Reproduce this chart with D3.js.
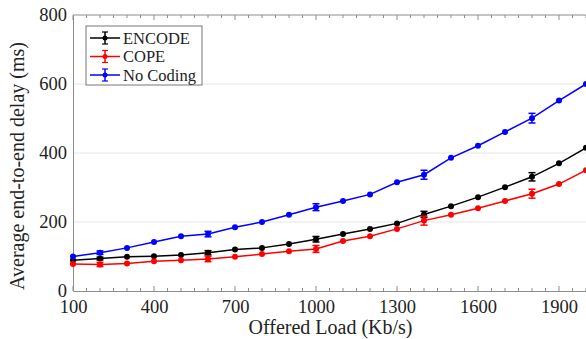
<!DOCTYPE html>
<html lang="en">
<head>
<meta charset="utf-8">
<title>End-to-end delay</title>
<script src="https://cdn.jsdelivr.net/npm/d3@7"></script>
<style>
  body { margin: 0; overflow: hidden; background: #fff; }
  svg text { font-family: "Liberation Serif", "DejaVu Serif", serif !important; fill: #222; }
  .tick text { font-size: 18.5px; }
  .axis-label { font-size: 20px; }
  .legend text { font-size: 16.5px; }
</style>
</head>
<body>
<script>
// data
const loads = [100,200,300,400,500,600,700,800,900,1000,1100,1200,1300,1400,1500,1600,1700,1800,1900,2000];
const encode = [89,94,99,101,104,111,120,125,136,150,165,180,196,222,246,272,301,331,370,415];
const cope   = [78,77,80,86,89,93,99,107,115,122,145,159,180,204,221,240,261,282,310,350];
const noCoding = [100,111,125,142,159,165,185,200,221,243,261,280,315,337,386,421,461,501,552,600];
// error half-widths (0 = none drawn)
const encodeErr   = [0,4,0,0,0,6,0,0,0,8,0,0,0,9,0,0,0,12,0,0];
const copeErr     = [0,6,0,0,0,8,0,0,0,10,0,0,0,13,0,0,0,13,0,0];
const noCodingErr = [0,5,0,0,0,8,0,0,0,10,0,0,0,13,0,0,0,14,0,0];
const xTicks = [100,400,700,1000,1300,1600,1900];
const yTicks = [0,200,400,600,800];

const series = [
  { name: 'ENCODE', color: '#000000', values: encode, err: encodeErr },
  { name: 'COPE', color: '#ff0000', values: cope, err: copeErr },
  { name: 'No Coding', color: '#0000ff', values: noCoding, err: noCodingErr }
];

const FONT = '"Liberation Serif", "DejaVu Serif", serif';
const width = 586, height = 339;
const margin = { top: 15, right: 0, bottom: 48, left: 73 };
const innerWidth = width - margin.left - margin.right;
const innerHeight = height - margin.top - margin.bottom;

const svg = d3.select('body').append('svg')
  .attr('width', width).attr('height', height)
  .attr('font-family', FONT);

const g = svg.append('g')
  .attr('transform', `translate(${margin.left},${margin.top})`);

const xScale = d3.scaleLinear().domain([100, 2000]).range([0, innerWidth]);
const yScale = d3.scaleLinear().domain([0, 800]).range([innerHeight, 0]);

// grid
g.selectAll('.grid').data([200, 400, 600]).enter().append('line')
  .attr('x1', 0).attr('x2', innerWidth)
  .attr('y1', d => yScale(d)).attr('y2', d => yScale(d))
  .attr('stroke', '#e6e6e6').attr('stroke-width', 1);

// minor x ticks (bottom + top)
const minor = d3.range(100, 2001, 50);
const axisColor = '#8c8c8c';
g.selectAll('.mb').data(minor).enter().append('line')
  .attr('x1', d => xScale(d)).attr('x2', d => xScale(d))
  .attr('y1', innerHeight).attr('y2', d => innerHeight - (xTicks.includes(d) ? 5 : 3))
  .attr('stroke', axisColor);
g.selectAll('.mt').data(minor).enter().append('line')
  .attr('x1', d => xScale(d)).attr('x2', d => xScale(d))
  .attr('y1', 0).attr('y2', d => (xTicks.includes(d) ? 5 : 3))
  .attr('stroke', axisColor);

// axes
const xAxis = d3.axisBottom(xScale).tickValues(xTicks).tickFormat(d3.format('d'))
  .tickSize(0).tickPadding(9);
const xAxisG = g.append('g').attr('transform', `translate(0,${innerHeight})`).call(xAxis)
  .attr('font-family', FONT);
xAxisG.select('.domain').attr('stroke', axisColor);

const yAxis = d3.axisLeft(yScale).tickValues(yTicks).tickFormat(d3.format('d'))
  .tickSize(0).tickPadding(6);
const yAxisG = g.append('g').call(yAxis).attr('font-family', FONT);
yAxisG.select('.domain').attr('stroke', axisColor);

g.append('line').attr('x1', 0).attr('x2', innerWidth).attr('y1', 0).attr('y2', 0)
  .attr('stroke', axisColor);

svg.append('text').attr('class', 'axis-label')
  .attr('x', margin.left + innerWidth / 2 + 1).attr('y', 334)
  .attr('text-anchor', 'middle').text('Offered Load (Kb/s)');

svg.append('text').attr('class', 'axis-label')
  .attr('transform', 'rotate(-90)')
  .attr('x', -166).attr('y', 24)
  .attr('text-anchor', 'middle').text('Average end-to-end delay (ms)');

// lines, error bars, markers
const line = d3.line().x((d, i) => xScale(loads[i])).y(d => yScale(d));

series.forEach(s => {
  const sg = g.append('g');
  sg.append('path').attr('d', line(s.values))
    .attr('fill', 'none').attr('stroke', s.color).attr('stroke-width', 1.5);

  const errs = s.values.map((v, i) => ({ x: loads[i], v: v, e: s.err[i] })).filter(d => d.e > 0);
  errs.forEach(d => {
    const x = xScale(d.x);
    sg.append('line').attr('x1', x).attr('x2', x)
      .attr('y1', yScale(d.v - d.e)).attr('y2', yScale(d.v + d.e))
      .attr('stroke', s.color).attr('stroke-width', 1.5);
    [d.v - d.e, d.v + d.e].forEach(c => {
      sg.append('line').attr('x1', x - 3.5).attr('x2', x + 3.5)
        .attr('y1', yScale(c)).attr('y2', yScale(c))
        .attr('stroke', s.color).attr('stroke-width', 1.5);
    });
  });

  sg.selectAll('circle').data(s.values).enter().append('circle')
    .attr('cx', (d, i) => xScale(loads[i])).attr('cy', d => yScale(d))
    .attr('r', 3).attr('fill', s.color);
});

// legend
const legend = svg.append('g').attr('class', 'legend').attr('transform', 'translate(86,26)');
legend.append('rect').attr('width', 116).attr('height', 59)
  .attr('fill', '#fff').attr('stroke', '#777').attr('stroke-width', 1);
series.forEach((s, i) => {
  const y = 12 + i * 18.5;
  legend.append('line').attr('x1', 4).attr('x2', 34).attr('y1', y).attr('y2', y)
    .attr('stroke', s.color).attr('stroke-width', 1.5);
  legend.append('line').attr('x1', 19).attr('x2', 19).attr('y1', y - 6).attr('y2', y + 6)
    .attr('stroke', s.color).attr('stroke-width', 1.5);
  [y - 6, y + 6].forEach(c => legend.append('line')
    .attr('x1', 16).attr('x2', 22).attr('y1', c).attr('y2', c)
    .attr('stroke', s.color).attr('stroke-width', 1.2));
  legend.append('circle').attr('cx', 19).attr('cy', y).attr('r', 2.5).attr('fill', s.color);
  legend.append('text').attr('x', 37).attr('y', y + 5.5).text(s.name);
});
</script>
</body>
</html>
